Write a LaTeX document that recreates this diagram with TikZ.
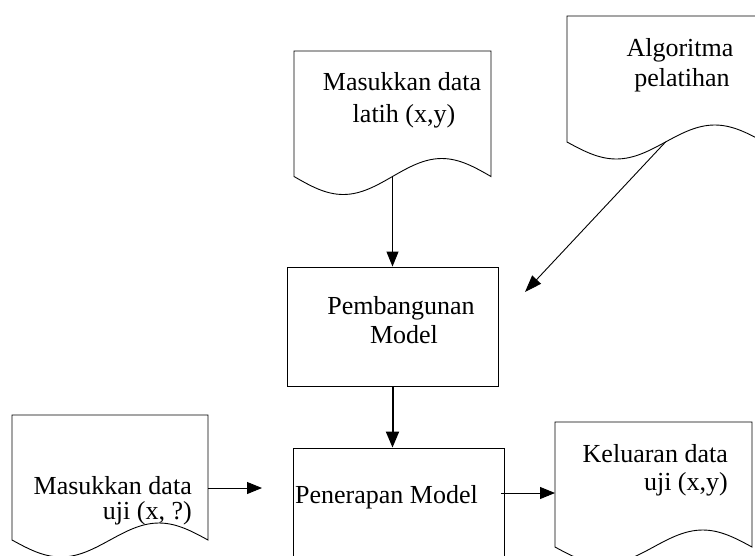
\documentclass[tikz,border=0pt]{standalone}
\usepackage{fontspec}
\setmainfont{Liberation Serif}
\usetikzlibrary{arrows.meta}
\begin{document}
\begin{tikzpicture}[x=1pt,y=-1pt,
  shape line/.style={line width=0.9pt, draw=black},
  boxnode/.style={shape line, rectangle, inner sep=0pt, minimum width=211pt, minimum height=119pt},
  lbl/.style={font=\fontsize{26}{30}\selectfont, inner sep=0pt, anchor=base},
  thin arrow/.style={line width=0.9pt, -{Triangle[length=15pt,width=12pt]}},
  thick arrow/.style={line width=2pt, -{Triangle[length=16pt,width=13pt]}},
  diag arrow/.style={line width=0.9pt, -{Triangle[length=17pt,width=12pt]}}
]
\useasboundingbox (0,0) rectangle (755,555);
\clip (0,0) rectangle (755,555);

% Document 1: Masukkan data latih
\draw[shape line] (294,176.5) sin (343.25,194.5) cos (392.5,176.5) coordinate (d1mid)
  sin (441.75,158.5) cos (491,176.5) -- (491,51) -- (294,51) -- cycle;
\node[lbl] (d1a) at (402,90) {Masukkan data};
\node[lbl] (d1b) at (404,122) {latih (x,y)};

% Document 2: Algoritma pelatihan
\draw[shape line] (567,142) sin (616.25,159) cos (665.5,142) coordinate (d2mid)
  sin (714.75,125) cos (764,142) -- (764,16) -- (567,16) -- cycle;
\node[lbl] (d2a) at (680,56) {Algoritma};
\node[lbl] (d2b) at (682,86) {pelatihan};

% Document 3: Masukkan data uji
\draw[shape line] (12,540) sin (61,557) cos (110,540)
  sin (159,523) cos (208,540) -- (208,415) -- (12,415) -- cycle;
\node[lbl, anchor=base east] (d3a) at (192,494) {Masukkan data};
\node[lbl, anchor=base east] (d3b) at (192,519) {uji (x, ?)};
\coordinate (d3out) at (208,488);
\coordinate (d3end) at (262,488);

% Document 4: Keluaran data uji
\draw[shape line] (555,547) sin (604.25,564) cos (653.5,547)
  sin (702.75,530) cos (752,547) -- (752,422) -- (555,422) -- cycle;
\node[lbl, anchor=base east] (d4a) at (728,462) {Keluaran data};
\node[lbl, anchor=base east] (d4b) at (728,490) {uji (x,y)};
\coordinate (d4in) at (555,493);

% Process boxes
\node[boxnode] (pb) at (392.5,326.5) {};
\node[lbl] (pba) at (401,314) {Pembangunan};
\node[lbl] (pbb) at (404,343) {Model};

\node[boxnode] (pn) at (398.5,507.5) {};
\node[lbl, anchor=base west] (pna) at (295,503) {Penerapan Model};
\coordinate (pnout) at (501,493);

% Connectors
\draw[thin arrow] (d1mid) -- (pb.north);
\coordinate (diagend) at (525,292);
\draw[diag arrow] (d2mid) -- (diagend);
\draw[thick arrow] (pb.south) -- (pb.south |- pn.north);
\draw[thin arrow] (d3out) -- (d3end);
\draw[thin arrow] (pnout) -- (d4in);
\end{tikzpicture}
\end{document}
